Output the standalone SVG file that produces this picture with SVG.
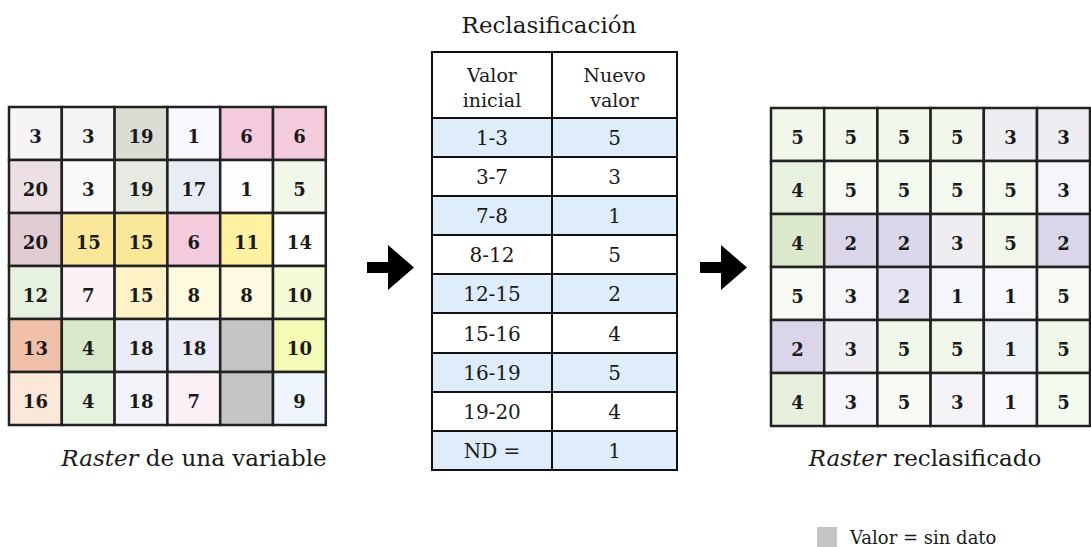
<svg xmlns="http://www.w3.org/2000/svg" width="1091" height="547" viewBox="0 0 1091 547">
  <style>
    .cell { stroke: #222222; stroke-width: 2.5; }
    .num { font-family: "DejaVu Serif", "Liberation Serif", serif; font-weight: bold; font-size: 18px; fill: #1a1a1a; text-anchor: middle; }
    .tbl { font-family: "DejaVu Serif", "Liberation Serif", serif; font-size: 20px; fill: #1a1a1a; text-anchor: middle; }
    .hdr { font-family: "DejaVu Serif", "Liberation Serif", serif; font-size: 19px; fill: #1a1a1a; text-anchor: middle; }
    .cap { font-family: "DejaVu Serif", "Liberation Serif", serif; font-size: 23px; fill: #1a1a1a; text-anchor: middle; }
    .leg { font-family: "DejaVu Serif", "Liberation Serif", serif; font-size: 18px; fill: #1a1a1a; }
    .row { stroke: #111111; stroke-width: 2; }
    .blue { fill: #deedf9; }
    .white { fill: #ffffff; }
    .arrow { fill: #000000; }
  </style>

  <!-- Input raster: 6 x 6 cells -->
  <g id="raster-input">
    <g class="cell">
      <rect x="9" y="107" width="52.8" height="53" fill="#f6f4f7"/>
      <rect x="61.8" y="107" width="52.8" height="53" fill="#f6f4f7"/>
      <rect x="114.6" y="107" width="52.8" height="53" fill="#d9ddd3"/>
      <rect x="167.4" y="107" width="52.8" height="53" fill="#f8f9fe"/>
      <rect x="220.2" y="107" width="52.8" height="53" fill="#f3cbdc"/>
      <rect x="273" y="107" width="52.8" height="53" fill="#f3cbdc"/>

      <rect x="9" y="160" width="52.8" height="53" fill="#ede0e4"/>
      <rect x="61.8" y="160" width="52.8" height="53" fill="#fbf9fc"/>
      <rect x="114.6" y="160" width="52.8" height="53" fill="#e7eae2"/>
      <rect x="167.4" y="160" width="52.8" height="53" fill="#e8ecf4"/>
      <rect x="220.2" y="160" width="52.8" height="53" fill="#fdfdff"/>
      <rect x="273" y="160" width="52.8" height="53" fill="#f2f7ec"/>

      <rect x="9" y="213" width="52.8" height="53" fill="#e2ccd4"/>
      <rect x="61.8" y="213" width="52.8" height="53" fill="#fae79a"/>
      <rect x="114.6" y="213" width="52.8" height="53" fill="#fae79a"/>
      <rect x="167.4" y="213" width="52.8" height="53" fill="#f3cbdc"/>
      <rect x="220.2" y="213" width="52.8" height="53" fill="#fff19f"/>
      <rect x="273" y="213" width="52.8" height="53" fill="#ffffff"/>

      <rect x="9" y="266" width="52.8" height="53" fill="#e6f1e0"/>
      <rect x="61.8" y="266" width="52.8" height="53" fill="#fcf1f6"/>
      <rect x="114.6" y="266" width="52.8" height="53" fill="#fef3c6"/>
      <rect x="167.4" y="266" width="52.8" height="53" fill="#fefadf"/>
      <rect x="220.2" y="266" width="52.8" height="53" fill="#fefae2"/>
      <rect x="273" y="266" width="52.8" height="53" fill="#f6fad6"/>

      <rect x="9" y="319" width="52.8" height="53" fill="#f0c0a8"/>
      <rect x="61.8" y="319" width="52.8" height="53" fill="#d8e8c8"/>
      <rect x="114.6" y="319" width="52.8" height="53" fill="#eaedf6"/>
      <rect x="167.4" y="319" width="52.8" height="53" fill="#eaedf6"/>
      <rect x="220.2" y="319" width="52.8" height="53" fill="#c4c4c4"/>
      <rect x="273" y="319" width="52.8" height="53" fill="#f5fab6"/>

      <rect x="9" y="372" width="52.8" height="53" fill="#fce8d8"/>
      <rect x="61.8" y="372" width="52.8" height="53" fill="#e6f1de"/>
      <rect x="114.6" y="372" width="52.8" height="53" fill="#f3f4f9"/>
      <rect x="167.4" y="372" width="52.8" height="53" fill="#fcf1f6"/>
      <rect x="220.2" y="372" width="52.8" height="53" fill="#c4c4c4"/>
      <rect x="273" y="372" width="52.8" height="53" fill="#eef5fc"/>
    </g>
    <g class="num">
      <text x="35.4" y="142.5">3</text><text x="88.2" y="142.5">3</text><text x="141" y="142.5">19</text><text x="193.8" y="142.5">1</text><text x="246.6" y="142.5">6</text><text x="299.4" y="142.5">6</text>
      <text x="35.4" y="195.5">20</text><text x="88.2" y="195.5">3</text><text x="141" y="195.5">19</text><text x="193.8" y="195.5">17</text><text x="246.6" y="195.5">1</text><text x="299.4" y="195.5">5</text>
      <text x="35.4" y="248.5">20</text><text x="88.2" y="248.5">15</text><text x="141" y="248.5">15</text><text x="193.8" y="248.5">6</text><text x="246.6" y="248.5">11</text><text x="299.4" y="248.5">14</text>
      <text x="35.4" y="301.5">12</text><text x="88.2" y="301.5">7</text><text x="141" y="301.5">15</text><text x="193.8" y="301.5">8</text><text x="246.6" y="301.5">8</text><text x="299.4" y="301.5">10</text>
      <text x="35.4" y="354.5">13</text><text x="88.2" y="354.5">4</text><text x="141" y="354.5">18</text><text x="193.8" y="354.5">18</text><text x="299.4" y="354.5">10</text>
      <text x="35.4" y="407.5">16</text><text x="88.2" y="407.5">4</text><text x="141" y="407.5">18</text><text x="193.8" y="407.5">7</text><text x="299.4" y="407.5">9</text>
    </g>
    <text class="cap" x="194" y="466"><tspan font-style="italic">Raster</tspan> de una variable</text>
  </g>

  <!-- Reclassification table -->
  <g id="reclass-table">
    <text class="cap" x="549" y="33">Reclasificación</text>
    <g class="row">
      <rect class="white" x="432" y="52" width="120" height="66"/>
      <rect class="white" x="552" y="52" width="125" height="66"/>
      <rect class="blue" x="432" y="118" width="120" height="39"/><rect class="blue" x="552" y="118" width="125" height="39"/>
      <rect class="white" x="432" y="157" width="120" height="39"/><rect class="white" x="552" y="157" width="125" height="39"/>
      <rect class="blue" x="432" y="196" width="120" height="39"/><rect class="blue" x="552" y="196" width="125" height="39"/>
      <rect class="white" x="432" y="235" width="120" height="39"/><rect class="white" x="552" y="235" width="125" height="39"/>
      <rect class="blue" x="432" y="274" width="120" height="39"/><rect class="blue" x="552" y="274" width="125" height="39"/>
      <rect class="white" x="432" y="313" width="120" height="40"/><rect class="white" x="552" y="313" width="125" height="40"/>
      <rect class="blue" x="432" y="353" width="120" height="39"/><rect class="blue" x="552" y="353" width="125" height="39"/>
      <rect class="white" x="432" y="392" width="120" height="39"/><rect class="white" x="552" y="392" width="125" height="39"/>
      <rect class="blue" x="432" y="431" width="120" height="39"/><rect class="blue" x="552" y="431" width="125" height="39"/>
    </g>
    <g class="hdr">
      <text x="492" y="82">Valor</text><text x="492" y="107">inicial</text>
      <text x="614.5" y="82">Nuevo</text><text x="614.5" y="107">valor</text>
    </g>
    <g class="tbl">
      <text x="492" y="145">1-3</text><text x="614.5" y="145">5</text>
      <text x="492" y="184">3-7</text><text x="614.5" y="184">3</text>
      <text x="492" y="223">7-8</text><text x="614.5" y="223">1</text>
      <text x="492" y="262">8-12</text><text x="614.5" y="262">5</text>
      <text x="492" y="301">12-15</text><text x="614.5" y="301">2</text>
      <text x="492" y="341">15-16</text><text x="614.5" y="341">4</text>
      <text x="492" y="380">16-19</text><text x="614.5" y="380">5</text>
      <text x="492" y="419">19-20</text><text x="614.5" y="419">4</text>
      <text x="492" y="458">ND =</text><text x="614.5" y="458">1</text>
    </g>
  </g>

  <!-- Reclassified raster: 6 x 6 cells -->
  <g id="raster-output">
    <g class="cell">
      <rect x="771" y="108" width="53.2" height="53" fill="#f1f7ea"/>
      <rect x="824.2" y="108" width="53.2" height="53" fill="#f1f7ea"/>
      <rect x="877.4" y="108" width="53.2" height="53" fill="#f1f7ea"/>
      <rect x="930.6" y="108" width="53.2" height="53" fill="#f1f7ea"/>
      <rect x="983.8" y="108" width="53.2" height="53" fill="#efedf1"/>
      <rect x="1037" y="108" width="53" height="53" fill="#efedf1"/>

      <rect x="771" y="161" width="53.2" height="53" fill="#e8f0de"/>
      <rect x="824.2" y="161" width="53.2" height="53" fill="#f7fbf3"/>
      <rect x="877.4" y="161" width="53.2" height="53" fill="#f5faf0"/>
      <rect x="930.6" y="161" width="53.2" height="53" fill="#f5faf0"/>
      <rect x="983.8" y="161" width="53.2" height="53" fill="#f5faf0"/>
      <rect x="1037" y="161" width="53" height="53" fill="#f7f5f9"/>

      <rect x="771" y="214" width="53.2" height="53" fill="#dde9cd"/>
      <rect x="824.2" y="214" width="53.2" height="53" fill="#dbd5ea"/>
      <rect x="877.4" y="214" width="53.2" height="53" fill="#dbd5ea"/>
      <rect x="930.6" y="214" width="53.2" height="53" fill="#efedf1"/>
      <rect x="983.8" y="214" width="53.2" height="53" fill="#f1f7ea"/>
      <rect x="1037" y="214" width="53" height="53" fill="#dbd5ea"/>

      <rect x="771" y="267" width="53.2" height="53" fill="#f7fbf3"/>
      <rect x="824.2" y="267" width="53.2" height="53" fill="#f7f5f9"/>
      <rect x="877.4" y="267" width="53.2" height="53" fill="#e6e3f2"/>
      <rect x="930.6" y="267" width="53.2" height="53" fill="#f5f6fb"/>
      <rect x="983.8" y="267" width="53.2" height="53" fill="#f7f8fc"/>
      <rect x="1037" y="267" width="53" height="53" fill="#f7fbf3"/>

      <rect x="771" y="320" width="53.2" height="53" fill="#dbd5ea"/>
      <rect x="824.2" y="320" width="53.2" height="53" fill="#efedf1"/>
      <rect x="877.4" y="320" width="53.2" height="53" fill="#f1f7ea"/>
      <rect x="930.6" y="320" width="53.2" height="53" fill="#f1f7ea"/>
      <rect x="983.8" y="320" width="53.2" height="53" fill="#eef1f6"/>
      <rect x="1037" y="320" width="53" height="53" fill="#f1f7ea"/>

      <rect x="771" y="373" width="53.2" height="53" fill="#e6f0dc"/>
      <rect x="824.2" y="373" width="53.2" height="53" fill="#f7f5f9"/>
      <rect x="877.4" y="373" width="53.2" height="53" fill="#f7fbf3"/>
      <rect x="930.6" y="373" width="53.2" height="53" fill="#f5f3f7"/>
      <rect x="983.8" y="373" width="53.2" height="53" fill="#f7f8fc"/>
      <rect x="1037" y="373" width="53" height="53" fill="#f5faf0"/>
    </g>
    <g class="num">
      <text x="797.6" y="143.5">5</text><text x="850.8" y="143.5">5</text><text x="904" y="143.5">5</text><text x="957.2" y="143.5">5</text><text x="1010.4" y="143.5">3</text><text x="1063.5" y="143.5">3</text>
      <text x="797.6" y="196.5">4</text><text x="850.8" y="196.5">5</text><text x="904" y="196.5">5</text><text x="957.2" y="196.5">5</text><text x="1010.4" y="196.5">5</text><text x="1063.5" y="196.5">3</text>
      <text x="797.6" y="249.5">4</text><text x="850.8" y="249.5">2</text><text x="904" y="249.5">2</text><text x="957.2" y="249.5">3</text><text x="1010.4" y="249.5">5</text><text x="1063.5" y="249.5">2</text>
      <text x="797.6" y="302.5">5</text><text x="850.8" y="302.5">3</text><text x="904" y="302.5">2</text><text x="957.2" y="302.5">1</text><text x="1010.4" y="302.5">1</text><text x="1063.5" y="302.5">5</text>
      <text x="797.6" y="355.5">2</text><text x="850.8" y="355.5">3</text><text x="904" y="355.5">5</text><text x="957.2" y="355.5">5</text><text x="1010.4" y="355.5">1</text><text x="1063.5" y="355.5">5</text>
      <text x="797.6" y="408.5">4</text><text x="850.8" y="408.5">3</text><text x="904" y="408.5">5</text><text x="957.2" y="408.5">3</text><text x="1010.4" y="408.5">1</text><text x="1063.5" y="408.5">5</text>
    </g>
    <text class="cap" x="925" y="466"><tspan font-style="italic">Raster</tspan> reclasificado</text>
  </g>

  <!-- Flow arrows between the panels -->
  <g id="connectors">
    <path class="arrow" d="M367 262 H388 V245 L414 267.5 L388 290 V273 H367 Z"/>
    <path class="arrow" d="M700 262 H721 V245 L747 267.5 L721 290 V273 H700 Z"/>
  </g>

  <!-- Legend -->
  <g id="legend">
    <rect x="817" y="527" width="20" height="20" fill="#c4c4c4"/>
    <text class="leg" x="850" y="544">Valor = sin dato</text>
  </g>
</svg>
